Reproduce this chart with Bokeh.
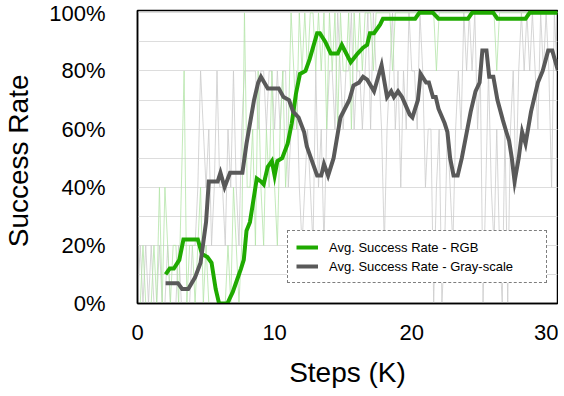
from bokeh.plotting import figure
from bokeh.models import (Range1d, SingleIntervalTicker, PrintfTickFormatter,
                          Legend, LegendItem)
from bokeh.embed import file_html
from bokeh.resources import INLINE

# ---- data -------------------------------------------------------------
raw_x = [round(0.2 * i, 1) for i in range(154)]  # evaluation steps (K)

rgb_raw = [
    0, 0, 20, 0, 0, 0, 20, 0, 40, 0,
    40, 20, 0, 20, 20, 0, 40, 80, 0, 20,
    20, 0, 20, 40, 0, 20, 0, 0, 0, 0,
    0, 0, 0, 20, 0, 40, 20, 0, 20, 100,
    40, 40, 60, 20, 80, 40, 20, 60, 40, 80,
    40, 20, 60, 80, 40, 60, 100, 80, 60, 100,
    80, 100, 80, 100, 100, 80, 100, 80, 100, 60,
    100, 80, 100, 60, 100, 80, 80, 100, 60, 100,
    80, 100, 80, 100, 100, 100, 80, 100, 100, 100,
    100, 100, 100, 80, 100, 100, 100, 100, 100, 100,
    100, 100, 100, 100, 100, 100, 100, 100, 100, 80,
    100, 100, 100, 100, 100, 100, 100, 100, 100, 100,
    100, 100, 100, 100, 100, 100, 100, 100, 100, 100,
    100, 80, 100, 100, 100, 100, 100, 100, 100, 100,
    100, 100, 100, 100, 100, 100, 100, 100, 100, 100,
    100, 100, 100, 100,
]

gray_raw = [
    0, 20, 0, 20, 0, 20, 0, 0, 20, 0,
    0, 20, 0, 0, 0, 20, 0, 0, 0, 0,
    20, 20, 40, 80, 60, 40, 60, 20, 40, 80,
    40, 40, 20, 60, 40, 80, 40, 20, 60, 80,
    80, 80, 80, 80, 60, 80, 80, 60, 80, 80,
    60, 80, 60, 80, 80, 40, 60, 60, 80, 40,
    20, 40, 60, 40, 20, 80, 40, 60, 20, 60,
    80, 80, 60, 100, 80, 60, 80, 80, 100, 60,
    80, 80, 60, 80, 100, 60, 100, 80, 80, 60,
    20, 60, 80, 100, 60, 80, 40, 80, 60, 100,
    80, 80, 60, 100, 80, 40, 60, 60, 0, 40,
    60, 0, 20, 60, 40, 20, 60, 80, 60, 100,
    80, 100, 80, 100, 60, 80, 0, 40, 80, 40,
    20, 60, 20, 0, 60, 0, 60, 80, 40, 80,
    100, 80, 100, 80, 100, 80, 60, 100, 80, 100,
    80, 40, 100, 80,
]

rgb_avg_x = [2.05, 2.35, 2.65, 3.05, 3.35, 3.7, 4.4, 4.7, 5.1, 5.4, 5.7, 5.95,
             6.55, 6.95, 7.25, 7.55, 7.75, 7.95, 8.2, 8.5, 8.7, 9.0, 9.2, 9.5,
             9.8, 10.0, 10.2, 10.55, 10.95, 11.25, 11.55, 11.85, 12.25, 12.55,
             13.1, 13.3, 13.7, 14.1, 14.6, 14.9, 15.55, 16.05, 16.45, 16.75,
             16.95, 17.25, 17.7, 17.9, 20.25, 20.55, 21.55, 21.95, 24.1, 24.4,
             25.95, 26.25, 28.3, 28.6, 30.7]
rgb_avg_y = [10, 12, 12, 15, 22, 22, 22, 17, 16, 14, 5, 0,
             0, 4, 8, 12, 15, 25, 28, 37, 43, 42, 41, 47,
             49, 44, 49, 50, 55, 62, 72, 79, 80, 84,
             93, 93, 90, 86, 86, 89, 83, 86, 88, 89,
             93, 93, 96, 98, 98, 100, 100, 98, 98, 100,
             100, 98, 98, 100, 100]

gray_avg_x = [2.05, 2.95, 3.25, 3.7, 4.2, 4.6, 5.0, 5.2, 5.85, 6.05, 6.35, 6.75,
              7.65, 7.95, 8.5, 8.8, 9.0, 9.5, 10.3, 10.65, 11.05, 11.35, 11.75,
              12.15, 12.35, 12.65, 13.1, 13.4, 13.6, 13.9, 14.3, 14.8, 15.45,
              15.75, 16.15, 16.45, 16.75, 17.25, 17.8, 18.2, 18.5, 18.7, 19.0,
              19.3, 19.85, 20.05, 20.45, 20.65, 21.05, 21.25, 21.55, 21.75,
              21.95, 22.4, 22.6, 22.8, 23.05, 23.35, 23.65, 24.3, 24.65, 24.95,
              25.15, 25.45, 25.65, 25.95, 26.25, 26.65, 26.9, 27.1, 27.3, 27.5,
              27.8, 28.05, 28.3, 28.7, 29.2, 29.55, 29.95, 30.25, 30.55, 30.7]
gray_avg_y = [7, 7, 5, 5, 9, 14, 28, 42, 42, 45, 40, 45,
              45, 55, 70, 76, 78, 74, 74, 71, 70, 66, 64,
              59, 54, 50, 44, 44, 48, 44, 50, 64, 70,
              75, 76, 78, 77, 73, 82, 71, 73, 71, 73,
              71, 65, 64, 70, 79, 76, 76, 71, 71,
              67, 62, 59, 50, 44, 44, 50, 66, 73, 76,
              87, 87, 78, 78, 70, 63, 59, 56, 50, 42,
              50, 59, 55, 66, 76, 80, 87, 87, 82, 84]

legend_labels = ["Avg. Success Rate - RGB", "Avg. Success Rate - Gray-scale"]

# ---- figure -----------------------------------------------------------
FONT = "Liberation Sans"
GREEN = "#1faa00"
DGRAY = "#595959"

p = figure(frame_width=420, frame_height=293,
           min_border_left=129, min_border_right=1, min_border_top=10,
           min_border_bottom=77,
           x_range=Range1d(0, 30.63), y_range=Range1d(0, 100.8),
           output_backend="svg", toolbar_location=None)

p.background_fill_color = "white"
p.border_fill_color = "white"
p.outline_line_color = "black"
p.outline_line_width = 1.5

# grids
p.xgrid.grid_line_color = None
p.ygrid.grid_line_color = "#dddddd"
p.ygrid.minor_grid_line_color = "#dddddd"
p.ygrid.grid_line_width = 1
p.ygrid.minor_grid_line_width = 1

# axes
p.yaxis.ticker = SingleIntervalTicker(interval=20, num_minor_ticks=2)
p.xaxis.ticker = SingleIntervalTicker(interval=10, num_minor_ticks=0)
p.yaxis.formatter = PrintfTickFormatter(format="%d%%")
for ax in (p.xaxis[0], p.yaxis[0]):
    ax.major_tick_line_color = None
    ax.minor_tick_line_color = None
    ax.axis_line_color = "black"
    ax.axis_line_width = 1.5
    ax.major_label_text_font = FONT
    ax.major_label_text_font_size = "22px"
    ax.major_label_text_color = "black"
    ax.axis_label_text_font = FONT
    ax.axis_label_text_font_size = "28px"
    ax.axis_label_text_font_style = "normal"
    ax.axis_label_text_color = "black"
p.xaxis.axis_label = "Steps (K)"
p.yaxis.axis_label = "Success Rate\u00a0"
p.yaxis.major_label_standoff = 26
p.yaxis.axis_label_standoff = 12
p.xaxis.major_label_standoff = 15
p.xaxis.axis_label_standoff = 14

# raw curves
p.line(raw_x, gray_raw, line_color="#cccccc", line_width=0.8)
p.line(raw_x, rgb_raw, line_color="#b4e4a8", line_width=0.8)

# averaged curves
r_rgb = p.line(rgb_avg_x, rgb_avg_y, line_color=GREEN, line_width=4,
               line_join="miter")
r_gray = p.line(gray_avg_x, gray_avg_y, line_color=DGRAY, line_width=4,
                line_join="miter")

legend = Legend(items=[LegendItem(label=legend_labels[0], renderers=[r_rgb]),
                       LegendItem(label=legend_labels[1], renderers=[r_gray])],
                location=(150, 20))
legend.margin = 0
legend.padding = 8
legend.spacing = 3
legend.glyph_width = 22
legend.glyph_height = 16
legend.label_height = 16
legend.label_width = 209
legend.label_standoff = 11
legend.label_text_font = FONT
legend.label_text_font_size = "13px"
legend.label_text_color = "black"
legend.border_line_color = "black"
legend.border_line_dash = "dotted"
legend.border_line_width = 1
legend.background_fill_color = "white"
legend.background_fill_alpha = 1
p.add_layout(legend, "center")

open("out.html", "w").write(file_html(p, INLINE))
